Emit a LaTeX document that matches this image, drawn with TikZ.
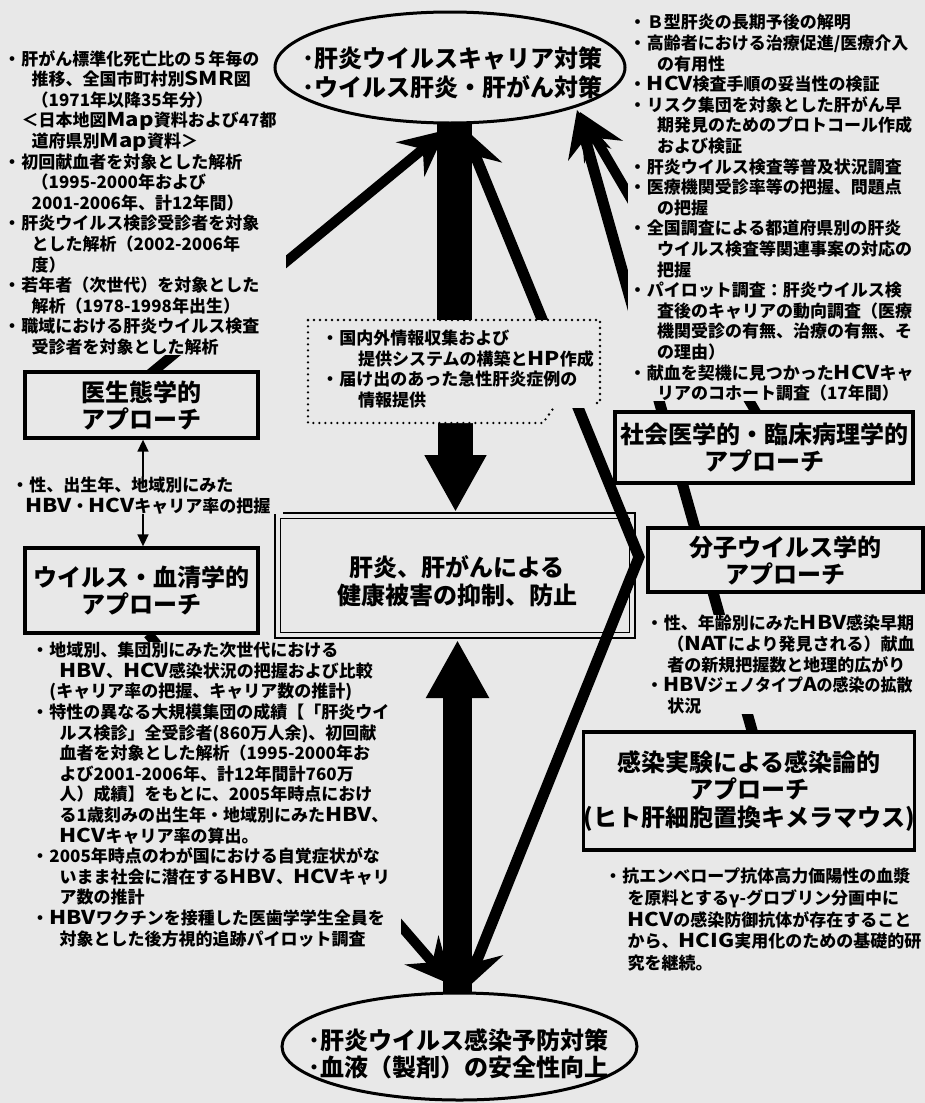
\documentclass[tikz,border=0pt]{standalone}
\usepackage{fontspec}
\usepackage{graphicx}
\setmainfont{Noto Sans CJK JP}
\usetikzlibrary{arrows.meta,shapes.geometric}
\definecolor{bgc}{gray}{0.91}
\newcommand\bu{\makebox[1.1em][c]{・}}
\newcommand\cind{\hspace*{1.7em}}
\newcommand\lt[1]{\scalebox{1.3}[1.12]{#1}}
\newcommand\sfnt{\fontsize{17}{20.6}\selectfont\bfseries}
\newcommand\kfnt{\fontsize{17}{21.6}\selectfont\bfseries}
\newcommand\tfnt{\fontsize{24}{27}\selectfont\bfseries}
\newcommand\efnt{\fontsize{24}{29}\selectfont\bfseries}
\newcommand\gfnt{\fontsize{24}{28}\selectfont\bfseries}
\begin{document}
\begin{tikzpicture}[x=1pt,y=-1pt,
  tbox/.style={draw, line width=3.3pt, fill=bgc, inner sep=0pt, align=center, font=\tfnt},
  blk/.style={anchor=north west, inner sep=0pt, fill=bgc, align=left, font=\sfnt},
  spike/.style={line width=10pt, -{Stealth[length=46pt,width=44pt,inset=16pt]}},
  dotsty/.style={line width=2.6pt, dash pattern=on 0pt off 6pt, line cap=round},
  ell/.style={draw, ellipse, line width=3pt, fill=bgc, inner sep=0pt}]
\useasboundingbox (0,0) rectangle (925,1103);
\fill[bgc] (0,0) rectangle (925,1103);

% end points of the connectors
\coordinate (Lstart) at (150,374);
\coordinate (Ltip) at (446,130);
\coordinate (Astart) at (753,734);
\coordinate (Atip) at (577,110);
\coordinate (Bstart) at (757,414);
\coordinate (Btip) at (580,112);
\coordinate (Cstart) at (148,634);
\coordinate (Ctip) at (452,985);
\coordinate (Rtop) at (464,128);
\coordinate (Rjunc) at (639,557);
\coordinate (Rbot) at (465,990);
\coordinate (shaftTop) at (454.5,116);
\coordinate (shaftBot) at (454.5,321);
\coordinate (downStart) at (455.5,422);
\coordinate (downTip) at (455.5,512);
\coordinate (upStart) at (457.5,998);
\coordinate (upTip) at (457.5,640);

% connectors partly hidden behind boxes and texts
\draw[spike] (Lstart) -- (Ltip);
\draw[spike, line width=11pt] (Astart) -- (Atip);
\draw[spike] (Bstart) -- (Btip);
\draw[spike] (Cstart) -- (Ctip);

% central goal box
\node[draw, line width=2.8pt, fill=bgc, minimum width=360pt, minimum height=125pt, inner sep=0pt] (goal) at (455,575.5) {};
\draw[line width=1.2pt] ([shift={(7,7)}]goal.north west) rectangle ([shift={(-7,-7)}]goal.south east);
\node[font=\gfnt, align=center] (goaltxt) at (457,581) {肝炎、肝がんによる\\健康被害の抑制、防止};

% big arrows
\draw[line width=35pt] (shaftBot) -- (shaftTop);
\draw[line width=35pt, -{Triangle[length=57pt,width=58pt]}] (downStart) -- (downTip);
\draw[line width=29pt, -{Triangle[length=58pt,width=59pt]}] (upStart) -- (upTip);

% long connector through the molecular virology box
\draw[line width=11pt, line join=miter, {Stealth[length=46pt,width=44pt,inset=16pt]}-{Stealth[length=46pt,width=44pt,inset=16pt]}] (Rtop) -- (Rjunc) -- (Rbot);

% dotted callout
\path[fill=bgc] (308,320) -- (600,320) -- (600,403) -- (557,403) -- (543,423) -- (308,423) -- cycle;
\draw[dotsty] (308,320) -- (600,320) -- (600,403) -- (557,403) -- (543,423) -- (308,423) -- cycle;
\node[blk] (info) at (320.6,330) {\bu 国内外情報収集および\\
\hspace*{2.2em}提供システムの構築と\lt{HP}作成\\
\bu 届け出のあった急性肝炎症例の\\
\hspace*{2.2em}情報提供};

% approach boxes
\node[tbox, minimum width=233pt, minimum height=66pt] (eco) at (141.5,405) {医生態学的\\アプローチ};
\node[tbox, minimum width=233pt, minimum height=85pt] (sero) at (141.5,590.5) {ウイルス・血清学的\\アプローチ};
\draw[line width=1.6pt, {Triangle[length=12pt,width=11pt]}-{Triangle[length=12pt,width=11pt]}] ([xshift=1.5pt]eco.south) -- ([xshift=1.5pt]sero.north);
\node[tbox, minimum width=298pt, minimum height=71pt] (socmed) at (764,447.5) {社会医学的・臨床病理学的\\アプローチ};
\node[tbox, minimum width=275pt, minimum height=64pt] (molvir) at (785.5,560) {分子ウイルス学的\\アプローチ};
\node[tbox, minimum width=312pt, minimum height=118pt, font=\fontsize{24}{27.5}\selectfont\bfseries] (infexp) at (749,791) {感染実験による感染論的\\アプローチ\\(ヒト肝細胞置換キメラマウス)};

% text blocks
\node[blk, text width=283pt] (tl) at (2.6,50) {\bu 肝がん標準化死亡比の５年毎の\\
\cind 推移、全国市町村別\lt{SMR}図\\
\cind （1971年以降35年分）\\
\hspace*{1.1em}＜日本地図\lt{Map}資料および47都\\
\cind 道府県別\lt{Map}資料＞\\
\bu 初回献血者を対象とした解析\\
\cind （1995-2000年および\\
\cind 2001-2006年、計12年間）\\
\bu 肝炎ウイルス検診受診者を対象\\
\cind とした解析（2002-2006年\\
\cind 度）\\
\bu 若年者（次世代）を対象とした\\
\cind 解析（1978-1998年出生）\\
\bu 職域における肝炎ウイルス検査\\
\cind 受診者を対象とした解析};

\node[blk, text width=295pt] (tr) at (628,14) {\bu Ｂ型肝炎の長期予後の解明\\
\bu 高齢者における治療促進/医療介入\\
\cind の有用性\\
\bu \lt{HCV}検査手順の妥当性の検証\\
\bu リスク集団を対象とした肝がん早\\
\cind 期発見のためのプロトコール作成\\
\cind および検証\\
\bu 肝炎ウイルス検査等普及状況調査\\
\bu 医療機関受診率等の把握、問題点\\
\cind の把握\\
\bu 全国調査による都道府県別の肝炎\\
\cind ウイルス検査等関連事案の対応の\\
\cind 把握\\
\bu パイロット調査：肝炎ウイルス検\\
\cind 査後のキャリアの動向調査（医療\\
\cind 機関受診の有無、治療の有無、そ\\
\cind の理由）\\
\bu 献血を契機に見つかった\lt{HCV}キャ\\
\cind リアのコホート調査（17年間）};

\node[blk, text width=272pt] (lm) at (10.6,477) {\bu 性、出生年、地域別にみた\\
\hspace*{0.85em}\lt{HBV}・\lt{HCV}キャリア率の把握};

\node[blk, text width=370pt] (ll) at (30.6,642) {\bu 地域別、集団別にみた次世代における\\
\cind \lt{HBV}、\lt{HCV}感染状況の把握および比較\\
\hspace*{1.1em}(キャリア率の把握、キャリア数の推計)\\
\bu 特性の異なる大規模集団の成績【「肝炎ウイ\\
\cind ルス検診」全受診者(860万人余)、初回献\\
\cind 血者を対象とした解析（1995-2000年お\\
\cind よび2001-2006年、計12年間計760万\\
\cind 人）成績】をもとに、2005年時点におけ\\
\cind る1歳刻みの出生年・地域別にみた\lt{HBV}、\\
\cind \lt{HCV}キャリア率の算出。\\
\bu 2005年時点のわが国における自覚症状がな\\
\cind いまま社会に潜在する\lt{HBV}、\lt{HCV}キャリ\\
\cind ア数の推計\\
\bu \lt{HBV}ワクチンを接種した医歯学学生全員を\\
\cind 対象とした後方視的追跡パイロット調査};

\node[blk, text width=274pt] (ml) at (645,615) {\bu 性、年齢別にみた\lt{HBV}感染早期\\
\hspace*{1.3em}（\lt{NAT}により発見される）献血\\
\hspace*{1.3em}者の新規把握数と地理的広がり\\
\bu \scalebox{0.94}[1]{\lt{HBV}ジェノタイプ\lt{A}の感染の拡散}\\
\hspace*{1.3em}状況};

\node[blk, text width=315pt, font=\kfnt] (kl) at (603.6,868) {\bu 抗エンベロープ抗体高力価陽性の血漿\\
\hspace*{1.4em}を原料とするγ-グロブリン分画中に\\
\hspace*{1.4em}\lt{HCV}の感染防御抗体が存在すること\\
\hspace*{1.4em}から、\lt{HCIG}実用化のための基礎的研\\
\hspace*{1.4em}究を継続。};

% ellipses
\node[ell, minimum width=350pt, minimum height=111pt] (topell) at (450,67.5) {};
\node[font=\efnt, align=left] (toptxt) at (452,72.5) {･肝炎ウイルスキャリア対策\\･ウイルス肝炎・肝がん対策};
\node[ell, minimum width=355pt, minimum height=107pt] (botell) at (459.5,1046.5) {};
\node[font=\tfnt, align=left] (bottxt) at (458,1053.5) {･肝炎ウイルス感染予防対策\\･血液（製剤）の安全性向上};
\end{tikzpicture}
\end{document}
